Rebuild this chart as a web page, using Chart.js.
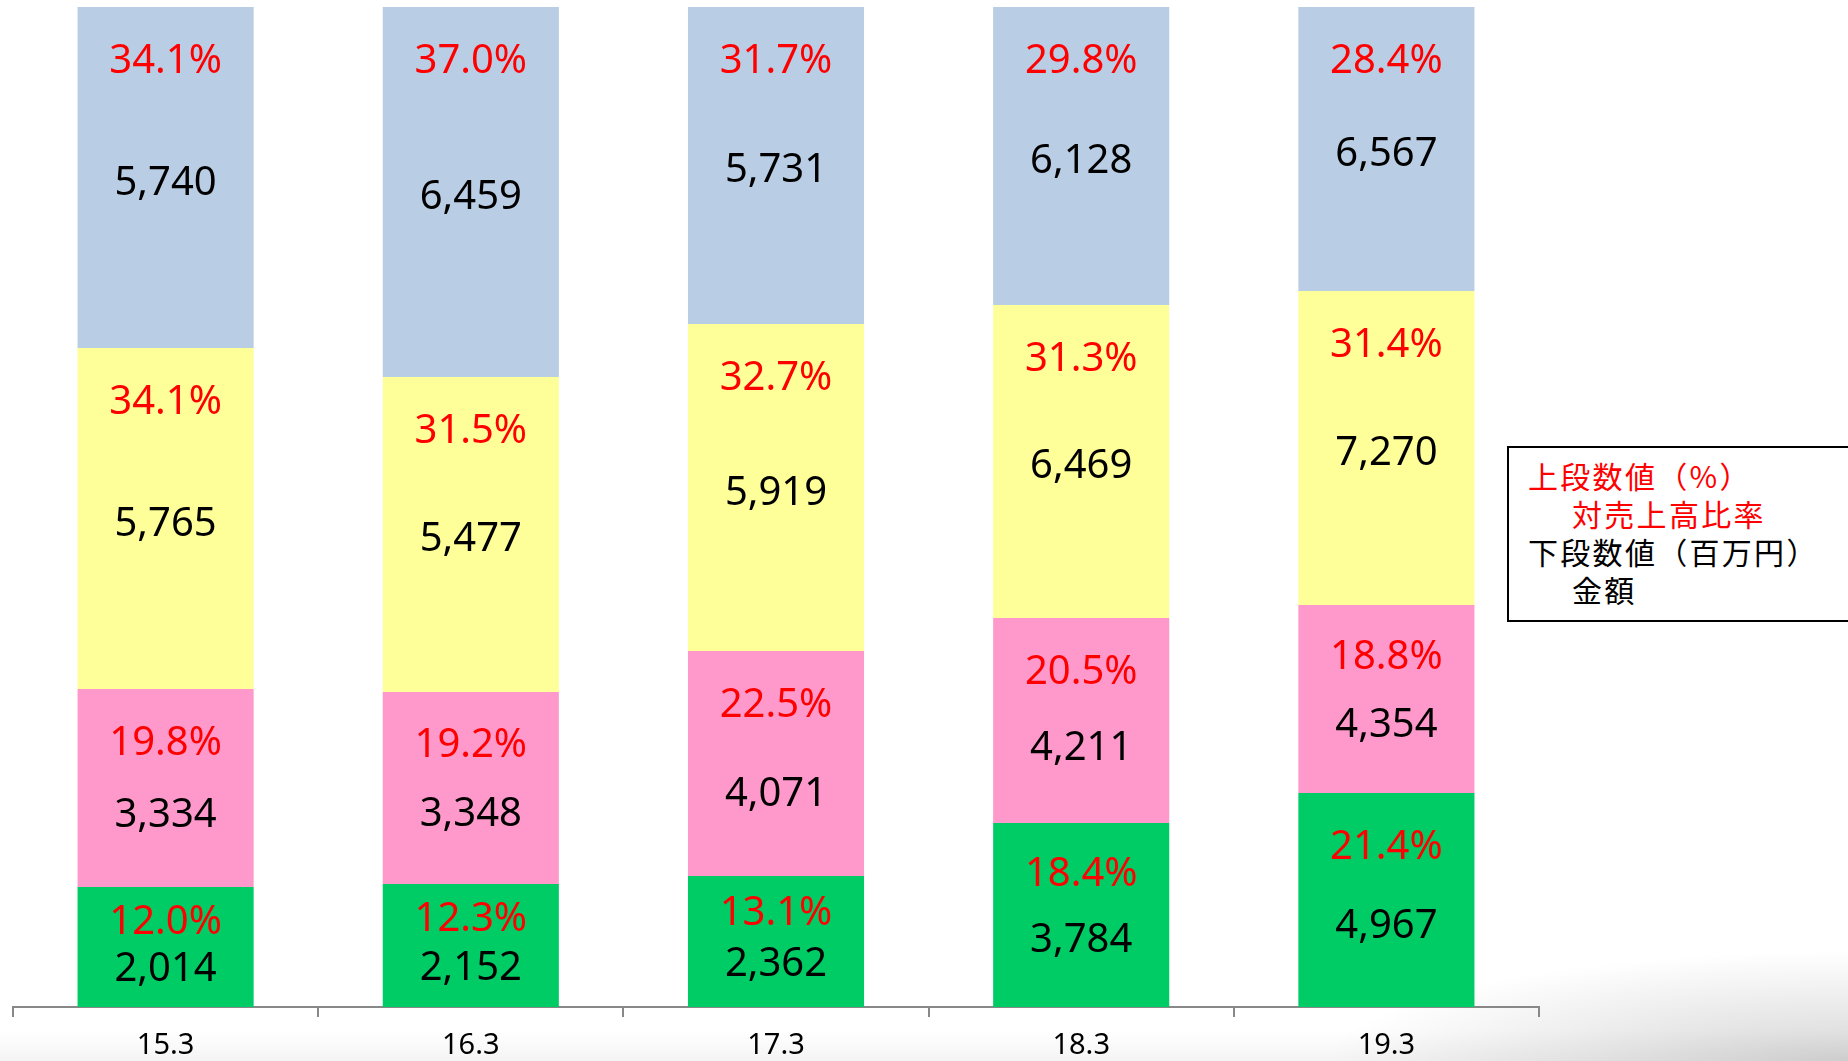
<!DOCTYPE html>
<html>
<head>
<meta charset="utf-8">
<script src="https://cdn.jsdelivr.net/npm/chart.js@4/dist/chart.umd.min.js"></script>
<style>
  html, body { margin:0; padding:0; }
  body {
    width:1848px; height:1061px; overflow:hidden; position:relative;
    background:
      radial-gradient(ellipse 520px 110px at 100% 100%, rgba(0,0,0,0.16), rgba(0,0,0,0) 100%),
      linear-gradient(to bottom, rgba(0,0,0,0) 0px, rgba(0,0,0,0) 1030px, rgba(0,0,0,0.045) 1061px),
      #ffffff;
  }
  #wrap { position:absolute; left:0; top:0; width:1848px; height:1061px; }
  #note {
    position:absolute; left:1507px; top:446px; width:380px; height:176px;
    box-sizing:border-box; border:2px solid #000; background:#fff;
    font-family:"Noto Sans CJK JP", "Noto Sans CJK SC", sans-serif;
    font-size:30px; line-height:38px; padding:8px 0 0 19px; letter-spacing:2.3px;
  }
  #note .red { color:#ff0000; }
  #note .blk { color:#000; }
  #note .ind { padding-left:44px; }
</style>
</head>
<body>
<div id="wrap"><canvas id="c" width="1848" height="1061"></canvas></div>
<div id="note">
  <div class="red">上段数値（%）</div>
  <div class="red ind">対売上高比率</div>
  <div class="blk">下段数値（百万円）</div>
  <div class="blk ind">金額</div>
</div>
<script>
// ---- data ----
const categories = ['15.3', '16.3', '17.3', '18.3', '19.3'];

const greenPct  = [12.0, 12.3, 13.1, 18.4, 21.4];
const pinkPct   = [19.8, 19.2, 22.5, 20.5, 18.8];
const yellowPct = [34.1, 31.5, 32.7, 31.3, 31.4];
const bluePct   = [34.1, 37.0, 31.7, 29.8, 28.4];

const greenAmt  = [2014, 2152, 2362, 3784, 4967];
const pinkAmt   = [3334, 3348, 4071, 4211, 4354];
const yellowAmt = [5765, 5477, 5919, 6469, 7270];
const blueAmt   = [5740, 6459, 5731, 6128, 6567];

// ---- styling ----
const COLORS = { green:'#00cc66', pink:'#ff99cc', yellow:'#ffff99', blue:'#b9cde5' };
// vertical placement of the amount label inside a segment of height h (from its top)
const VALUE_POS = [
  h => 14 + 0.54 * h,
  h => 0.62 * h,
  h => 0.505 * h,
  h => 0.505 * h
];

const datasets = [
  { label:'green',  data: greenPct,  amounts: greenAmt,  backgroundColor: COLORS.green },
  { label:'pink',   data: pinkPct,   amounts: pinkAmt,   backgroundColor: COLORS.pink },
  { label:'yellow', data: yellowPct, amounts: yellowAmt, backgroundColor: COLORS.yellow },
  { label:'blue',   data: bluePct,   amounts: blueAmt,   backgroundColor: COLORS.blue }
].map(d => Object.assign(d, { categoryPercentage: 1.0, barPercentage: 0.577, borderWidth: 0 }));

const labelPlugin = {
  id: 'segLabels',
  afterDatasetsDraw(chart) {
    const ctx = chart.ctx;
    ctx.save();
    ctx.textAlign = 'center';
    ctx.textBaseline = 'middle';
    ctx.font = '40px "Noto Sans", sans-serif';
    chart.data.datasets.forEach((ds, di) => {
      const meta = chart.getDatasetMeta(di);
      meta.data.forEach((el, i) => {
        const top = Math.min(el.y, el.base);
        const bot = Math.max(el.y, el.base);
        const h = bot - top;
        const pctY = top + Math.min(51, 0.26 * h) + 4;
        const valY = top + VALUE_POS[di](h) + 4;
        ctx.fillStyle = '#ff0000';
        ctx.fillText(ds.data[i].toFixed(1) + '%', el.x, pctY);
        ctx.fillStyle = '#000000';
        ctx.fillText(ds.amounts[i].toLocaleString('en-US'), el.x, valY);
      });
    });
    ctx.restore();
  }
};

new Chart(document.getElementById('c'), {
  type: 'bar',
  data: { labels: categories, datasets },
  options: {
    responsive: false,
    animation: false,
    layout: { padding: { left: 13, right: 309, top: 7, bottom: 0 } },
    plugins: { legend: { display: false }, tooltip: { enabled: false } },
    scales: {
      x: {
        stacked: true,
        grid: { display: true, offset: true, drawOnChartArea: false, drawTicks: true, tickLength: 10, color: '#888888', lineWidth: 2 },
        border: { display: true, color: '#888888', width: 2 },
        ticks: { color: '#000000', font: { family: '"Noto Sans", sans-serif', size: 29 }, padding: 11, maxRotation: 0 },
        afterFit(scale) { scale.height = 54; }
      },
      y: {
        stacked: true, display: false, min: 0, max: 100
      }
    }
  },
  plugins: [labelPlugin]
});
</script>
</body>
</html>
